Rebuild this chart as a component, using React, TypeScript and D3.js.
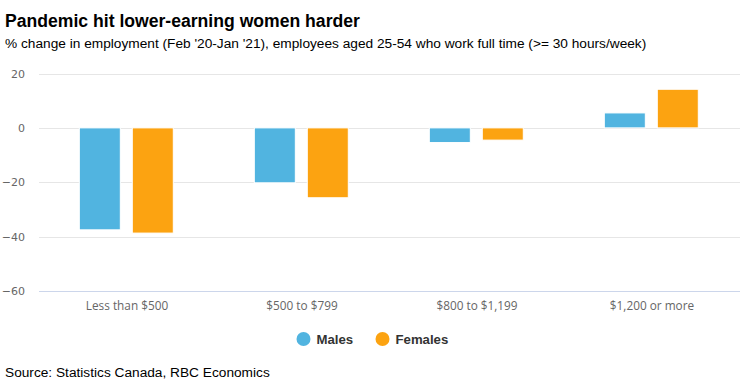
import React from "react";
import * as d3 from "d3";

const categories = ["Less than $500", "$500 to $799", "$800 to $1,199", "$1,200 or more"];
const seriesNames = ["Males", "Females"];
const males = [-37.5, -20.2, -5.4, 5.5];
const females = [-38.7, -25.7, -4.5, 14.2];
const yTicks = [-60, -40, -20, 0, 20];
const colors = ["#51b4e0", "#fca311"];

const W = 750;
const H = 387;

export default function App() {
  const x = d3.scaleBand<string>().domain(categories).range([39.5, 739.5]).padding(0);
  const bw = x.bandwidth();
  const inner = d3
    .scaleBand<string>()
    .domain(seriesNames)
    .range([bw * 0.2275, bw * 0.7645])
    .paddingInner(0.226)
    .paddingOuter(0);
  const y = d3.scaleLinear().domain([-60, 20]).range([291, 73.5]);
  const values = [males, females];
  const font = "'Liberation Sans', Arial, sans-serif";

  return (
    <svg width={W} height={H} style={{ position: "absolute", left: 0, top: 0, background: "#fff" }} fontFamily={font}>
      <rect x={0} y={0} width={W} height={H} fill="#fff" />
      <text x={5} y={27} fontSize={17.6} fontWeight="bold" fill="#000">
        Pandemic hit lower-earning women harder
      </text>
      <text x={5} y={48} fontSize={13.7} fill="#000">
        % change in employment (Feb '20-Jan '21), employees aged 25-54 who work full time (&gt;= 30 hours/week)
      </text>
      {yTicks.map((t) => (
        <g key={t}>
          <line
            x1={39}
            x2={740}
            y1={Math.round(y(t)) + 0.5}
            y2={Math.round(y(t)) + 0.5}
            stroke={t === -60 ? "#ccd6eb" : "#e6e6e6"}
            strokeWidth={1}
          />
          <text x={25} y={y(t) + 4} fontSize={11} fill="#666" textAnchor="end" fontFamily="'DejaVu Sans', sans-serif">
            {t < 0 ? "\u2212" + Math.abs(t) : String(t)}
          </text>
        </g>
      ))}
      {categories.map((c, i) => (
        <g key={c} transform={`translate(${x(c)},0)`}>
          {seriesNames.map((s, j) => {
            const v = values[j][i];
            const y0 = y(0);
            const y1 = y(v);
            return (
              <rect
                key={s}
                x={inner(s)}
                y={Math.min(y0, y1)}
                width={inner.bandwidth()}
                height={Math.abs(y1 - y0)}
                fill={colors[j]}
                stroke="#fff"
                strokeWidth={1}
              />
            );
          })}
          <text x={bw / 2} y={310} fontSize={11.8} fill="#666" textAnchor="middle" fontFamily="'Open Sans', sans-serif">
            {c}
          </text>
        </g>
      ))}
      {seriesNames.map((s, j) => {
        const lx = [303.5, 382.5][j];
        return (
          <g key={s}>
            <circle cx={lx} cy={339} r={7} fill={colors[j]} />
            <text x={lx + 13} y={344} fontSize={13.2} fontWeight="bold" fill="#333">
              {s}
            </text>
          </g>
        );
      })}
      <text x={5} y={376.5} fontSize={13.7} fill="#000">
        Source: Statistics Canada, RBC Economics
      </text>
    </svg>
  );
}
